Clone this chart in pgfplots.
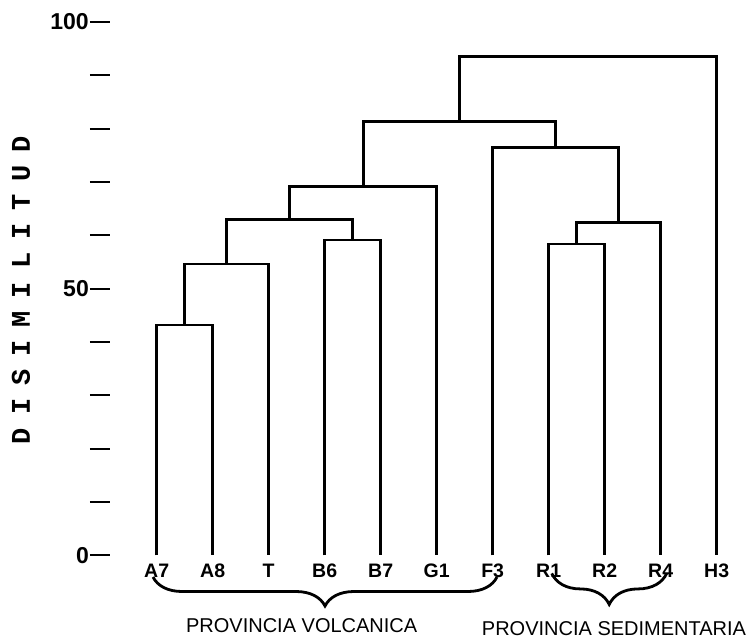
\documentclass[border=0pt]{standalone}
\usepackage{pgfplots}
\pgfplotsset{compat=1.18}
\usepackage{fontspec}
\setmainfont{Liberation Sans}
\newfontfamily\typefont{Liberation Mono}
\usetikzlibrary{decorations.pathreplacing}
\begin{document}
\begin{tikzpicture}
\useasboundingbox (-110bp,-85.7bp) rectangle (637bp,555.3bp);
\begin{axis}[
  anchor=south west, at={(0,0)},
  scale only axis,
  width=620bp, height=533.3bp,
  xmin=-0.834, xmax=10.2375,
  ymin=0, ymax=100,
  clip=false,
  axis x line*=bottom, axis y line*=left,
  x axis line style={draw=none}, y axis line style={draw=none},
  xtick={0,...,10},
  xticklabels={A7,A8,T,B6,B7,G1,F3,R1,R2,R4,H3},
  xtick align=inside,
  major x tick style={draw=none},
  xticklabel style={anchor=north, inner sep=0pt, text height=14bp, text depth=0pt, yshift=-8bp, font=\fontsize{19.5bp}{22bp}\selectfont\bfseries},
  ytick={0,10,...,100},
  yticklabels={0,,,,,50,,,,,100},
  ytick align=outside,
  major tick length=20bp,
  major y tick style={line width=2bp, black},
  yticklabel style={inner sep=1bp, font=\fontsize{23bp}{25bp}\selectfont\bfseries},
  ylabel={D\kern13bp I\kern13bp S\kern13bp I\kern13bp M\kern13bp I\kern13bp L\kern13bp I\kern13bp T\kern13bp U\kern13bp D},
  ylabel style={at={(axis description cs:-0.1435,0.4975)}, anchor=center, font=\fontsize{27bp}{30bp}\selectfont\typefont\bfseries},
  dendro/.style={black, solid, no markers, line width=2.6bp, line join=miter},
]
% A7-A8
\addplot[dendro] coordinates {(0,0) (0,43.2) (1,43.2) (1,0)};
% (A7A8)-T
\addplot[dendro] coordinates {(0.5,43.2) (0.5,54.6) (2,54.6) (2,0)};
% B6-B7
\addplot[dendro] coordinates {(3,0) (3,59.1) (4,59.1) (4,0)};
% ((A7A8)T)-(B6B7)
\addplot[dendro] coordinates {(1.25,54.6) (1.25,63.0) (3.5,63.0) (3.5,59.1)};
% + G1
\addplot[dendro] coordinates {(2.375,63.0) (2.375,69.2) (5,69.2) (5,0)};
% R1-R2
\addplot[dendro] coordinates {(7,0) (7,58.4) (8,58.4) (8,0)};
% (R1R2)-R4
\addplot[dendro] coordinates {(7.5,58.4) (7.5,62.4) (9,62.4) (9,0)};
% F3-(R1R2R4)
\addplot[dendro] coordinates {(6,0) (6,76.5) (8.25,76.5) (8.25,62.4)};
% volcanic - (F3 R)
\addplot[dendro] coordinates {(3.6875,69.2) (3.6875,81.3) (7.125,81.3) (7.125,76.5)};
% all - H3
\addplot[dendro] coordinates {(5.40625,81.3) (5.40625,93.5) (10,93.5) (10,0)};

\draw[line width=2.8bp, decorate, decoration={brace, mirror, amplitude=29bp}]
  (axis cs:-0.066,-4.07) -- (axis cs:6.077,-4.07);
\draw[line width=2.8bp, decorate, decoration={brace, mirror, amplitude=31bp}]
  (axis cs:7.054,-3.4) -- (axis cs:9.107,-3.4);
\node[font=\fontsize{20bp}{24bp}\selectfont, inner sep=0pt] at (axis cs:2.589,-13.2) {PROVINCIA VOLCANICA};
\node[font=\fontsize{20bp}{24bp}\selectfont, inner sep=0pt] at (axis cs:8.166,-13.8) {PROVINCIA SEDIMENTARIA};
\end{axis}
\end{tikzpicture}
\end{document}
